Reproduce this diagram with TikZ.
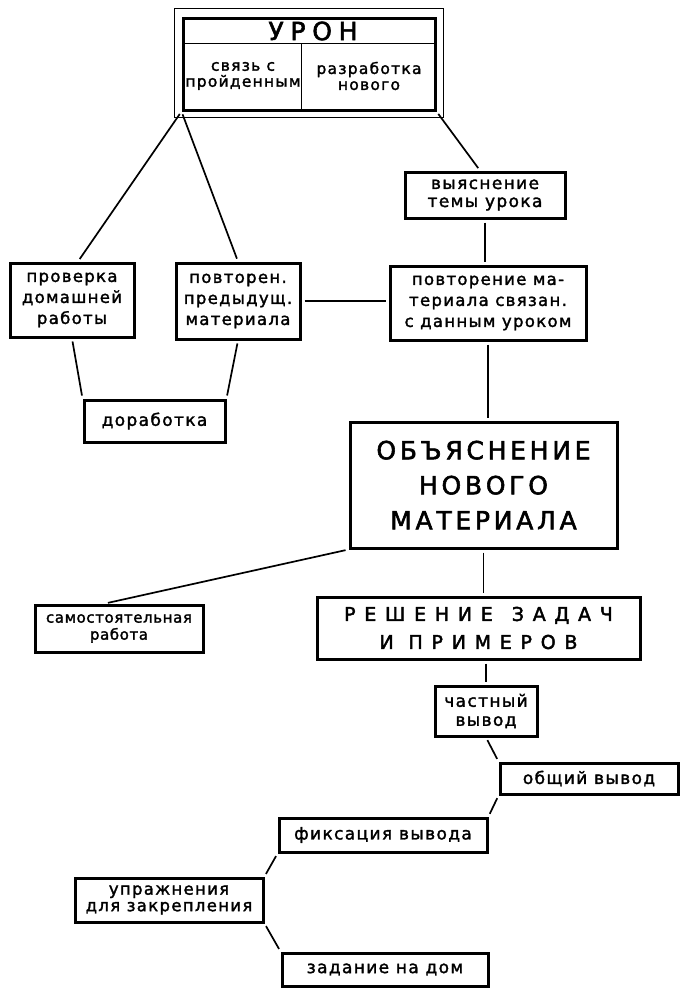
\documentclass[tikz,border=0pt]{standalone}
\usepackage{fontspec}
\setmainfont{DejaVu Sans}
\newfontfamily\lblfont{DejaVu Sans}[LetterSpace=8,FakeBold=1.8]
\newfontfamily\tightfont{DejaVu Sans}[LetterSpace=4,FakeBold=1.8]
\newfontfamily\capfont{DejaVu Sans}[LetterSpace=15,FakeBold=2.2]
\newfontfamily\widefont{DejaVu Sans}[LetterSpace=46,FakeBold=2.2]
\newfontfamily\titlefont{DejaVu Sans}[LetterSpace=27,FakeBold=2.2]
\usepackage{tikz}
\usetikzlibrary{positioning,calc}

\begin{document}
\begin{tikzpicture}[x=1pt,y=-1pt,
  every node/.style={align=center,inner sep=1pt},
  b/.style={draw,line width=3pt,font=\lblfont\fontsize{17}{18}\selectfont},
  b3/.style={b,font=\lblfont\fontsize{16.5}{21}\selectfont},
  ln/.style={line width=1.7pt,shorten <=3pt,shorten >=3pt}
]
  \useasboundingbox (0,0) rectangle (683,988);
  % lesson box with double frame
  \node[b,minimum width=252,minimum height=92] (urok) at (309,64) {};
  \draw[line width=1pt] ($(urok.north west)+(-7,-8)$) rectangle ($(urok.south east)+(7,6)$);
  \coordinate (tl) at ($(urok.north west)+(1,27)$);
  \coordinate (tr) at ($(urok.north east)+(-1,27)$);
  \draw[line width=1.2pt] (tl) -- (tr);
  \draw[line width=1.2pt] ($(tl)+(119,0)$) -- ($(urok.south west)+(120,-1)$);
  \node[font=\titlefont\fontsize{25}{26}\selectfont] (urokT) at (313,31) {УРОН};
  \node[font=\lblfont\fontsize{15.5}{16}\selectfont] (svyaz) at (243,76) {связь с\\пройденным};
  \node[font=\lblfont\fontsize{15.5}{16}\selectfont] (razrab) at (369,76) {разработка\\нового};

  \node[b,minimum width=160,minimum height=46] (vyyasn) at (485,195) {выяснение\\темы урока};
  \node[b3,minimum width=124,minimum height=74] (proverka) at (72,300) {проверка\\домашней\\работы};
  \node[b3,minimum width=124,minimum height=76] (povtor) at (238,301) {повторен.\\предыдущ.\\материала};
  \node[b3,minimum width=196,minimum height=74] (povtorS) at (488,303) {повторение ма-\\териала связан.\\с данным уроком};
  \node[b,minimum width=141,minimum height=42] (dorab) at (154.5,421) {доработка};
  \node[b,minimum width=267,minimum height=126,
        font=\capfont\fontsize{25}{35}\selectfont] (obyasn) at (483.5,485) {ОБЪЯСНЕНИЕ\\НОВОГО\\МАТЕРИАЛА};
  \node[b,minimum width=168,minimum height=47,
        font=\tightfont\fontsize{15}{17}\selectfont] (samost) at (119,628.5) {самостоятельная\\работа};
  \node[b,minimum width=323,minimum height=62,
        font=\widefont\fontsize{19}{28}\selectfont] (reshen) at (478.5,628) {РЕШЕНИЕ\hspace{1em}ЗАДАЧ\\И ПРИМЕРОВ};
  \node[b,minimum width=102,minimum height=50,
        font=\lblfont\fontsize{17}{19}\selectfont] (chast) at (486,711) {частный\\вывод};
  \node[b,minimum width=178,minimum height=31] (obshch) at (589,778.5) {общий вывод};
  \node[b,minimum width=208,minimum height=34] (fiksac) at (383,835) {фиксация\hspace{0.4em}вывода};
  \node[b,minimum width=188,minimum height=44,
        font=\lblfont\fontsize{16.5}{16.5}\selectfont] (upr) at (169,900) {упражнения\\для закрепления};
  \node[b,minimum width=206,minimum height=33] (zadan) at (385,969.5) {задание на дом};

  \draw[ln] (urok.south west) -- ([xshift=6pt]proverka.north);
  \draw[ln] (urok.south west) -- (povtor.north);
  \draw[ln] (urok.south east) -- ([xshift=-5pt]vyyasn.north);
  \draw[ln] (vyyasn.south) -- (vyyasn.south |- povtorS.north);
  \draw[ln] (povtor.east) -- (povtor.east -| povtorS.west);
  \draw[ln] (proverka.south) -- (dorab.north west);
  \draw[ln] (povtor.south) -- (dorab.north east);
  \draw[ln] (povtorS.south) -- (povtorS.south |- obyasn.north);
  \draw[ln] (obyasn.south west) -- ([xshift=-14pt]samost.north);
  \draw[ln] (obyasn.south) -- (obyasn.south |- reshen.north);
  \draw[ln] (chast.north |- reshen.south) -- (chast.north);
  \draw[ln] (chast.south) -- (obshch.north west);
  \draw[ln] (obshch.south west) -- (fiksac.north east);
  \draw[ln] (fiksac.south west) -- (upr.north east);
  \draw[ln] (upr.south east) -- (zadan.north west);
\end{tikzpicture}
\end{document}
